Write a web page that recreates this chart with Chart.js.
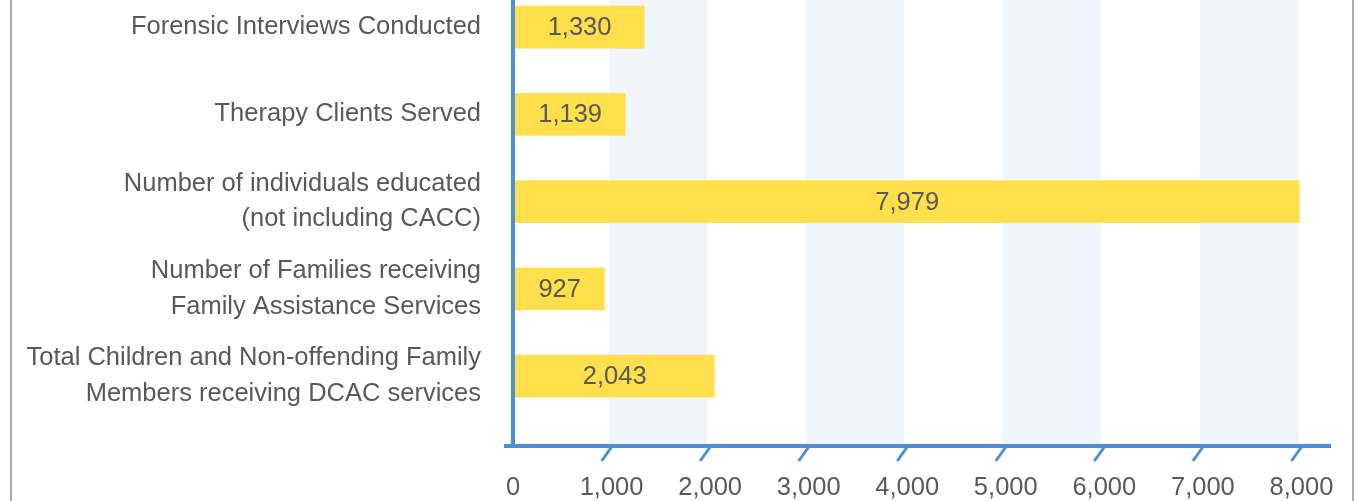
<!DOCTYPE html>
<html>
<head>
<meta charset="utf-8">
<script src="https://cdn.jsdelivr.net/npm/chart.js@4/dist/chart.umd.min.js"></script>
<style>
  html, body { margin: 0; padding: 0; background: #fff; }
  #wrap { position: relative; width: 1359px; height: 501px; overflow: hidden; }
  #frame {
    position: absolute; left: 10px; top: 0; width: 1340px; height: 501px;
    border-left: 2px solid #a9a9ae; border-right: 2px solid #a9a9ae;
    pointer-events: none;
  }
</style>
</head>
<body>
<div id="wrap">
  <canvas id="chart" width="1359" height="501"></canvas>
  <div id="frame"></div>
</div>
<script>
/* ── Data ── */
const categories = [
  ['Forensic Interviews Conducted'],
  ['Therapy Clients Served'],
  ['Number of individuals educated', '(not including CACC)'],
  ['Number of Families receiving', 'Family Assistance Services'],
  ['Total Children and Non-offending Family', 'Members receiving DCAC services'],
];
const values = [1330, 1139, 7979, 927, 2043];
const xTicks = [0, 1000, 2000, 3000, 4000, 5000, 6000, 7000, 8000];
const bands = [[1000, 2000], [3000, 4000], [5000, 6000], [7000, 8000]];

/* ── Colors ── */
const COLORS = {
  bar: '#ffdf4b',
  band: '#eff5fa',
  axis: '#4d8fd2',
  text: '#595959',
};
const FONT = "'Liberation Sans', Arial, sans-serif";

function fmt(n) { return n.toLocaleString('en-US'); }

/* ── Plugins ── */
const bandsPlugin = {
  id: 'bands',
  beforeDatasetsDraw(chart) {
    const { ctx, chartArea, scales: { x } } = chart;
    ctx.save();
    ctx.fillStyle = COLORS.band;
    bands.forEach(([a, b]) => {
      const x0 = x.getPixelForValue(a) - 3, x1 = x.getPixelForValue(b) - 3;
      ctx.fillRect(x0, chartArea.top, x1 - x0, chartArea.bottom - chartArea.top);
    });
    ctx.restore();
  }
};

const axesPlugin = {
  id: 'axes',
  afterDatasetsDraw(chart) {
    const { ctx, chartArea, scales: { x } } = chart;
    ctx.save();
    ctx.strokeStyle = COLORS.axis;
    ctx.lineWidth = 4;
    // y axis
    ctx.beginPath();
    ctx.moveTo(chartArea.left, chartArea.top);
    ctx.lineTo(chartArea.left, chartArea.bottom);
    ctx.stroke();
    // x axis
    ctx.beginPath();
    ctx.moveTo(chartArea.left - 9, chartArea.bottom);
    ctx.lineTo(chartArea.right, chartArea.bottom);
    ctx.stroke();
    // slanted ticks
    ctx.lineWidth = 3;
    xTicks.slice(1).forEach(v => {
      const px = x.getPixelForValue(v);
      ctx.beginPath();
      ctx.moveTo(px, chartArea.bottom + 1);
      ctx.lineTo(px - 10, chartArea.bottom + 15);
      ctx.stroke();
    });
    ctx.restore();
  }
};

const valueLabels = {
  id: 'valueLabels',
  afterDatasetsDraw(chart) {
    const { ctx } = chart;
    const meta = chart.getDatasetMeta(0);
    ctx.save();
    ctx.fillStyle = COLORS.text;
    ctx.font = '25.5px ' + FONT;
    ctx.textAlign = 'center';
    ctx.textBaseline = 'middle';
    meta.data.forEach((bar, i) => {
      ctx.fillText(fmt(values[i]), (bar.x + bar.base) / 2 + 1, bar.y + 1);
    });
    ctx.restore();
  }
};

/* ── Chart ── */
new Chart(document.getElementById('chart'), {
  type: 'bar',
  data: {
    datasets: [{
      data: values.map((v, i) => ({ x: v, y: i })),
      backgroundColor: COLORS.bar,
      barThickness: 42,
      borderWidth: 0,
    }]
  },
  options: {
    indexAxis: 'y',
    responsive: false,
    animation: false,
    layout: { padding: { top: 0, left: 0, bottom: 0, right: 28 } },
    plugins: {
      legend: { display: false },
      tooltip: { enabled: false },
    },
    scales: {
      x: {
        type: 'linear',
        min: 0,
        max: 8300,
        offset: false,
        grid: { display: false, drawTicks: false },
        border: { display: false },
        afterBuildTicks: s => { s.ticks = xTicks.map(v => ({ value: v })); },
        afterFit: s => { s.height = 55; s.paddingLeft = 0; s.paddingRight = 0; },
        ticks: {
          padding: 27,
          color: COLORS.text,
          font: { family: FONT, size: 25.5 },
          callback: v => fmt(v),
          maxRotation: 0,
          autoSkip: false,
        },
      },
      y: {
        type: 'linear',
        reverse: true,
        min: -0.31,
        max: 4.80,
        offset: false,
        grid: { display: false, drawTicks: false, offset: false },
        border: { display: false },
        afterBuildTicks: s => { s.ticks = categories.map((_, i) => ({ value: i })); },
        afterFit: s => { s.width = 513; s.paddingTop = 0; s.paddingBottom = 0; },
        ticks: {
          padding: 32,
          color: COLORS.text,
          font: { family: FONT, size: 25.5, lineHeight: 1.4 },
          callback: v => categories[v],
          autoSkip: false,
        },
      },
    },
  },
  plugins: [bandsPlugin, axesPlugin, valueLabels],
});
</script>
</body>
</html>
